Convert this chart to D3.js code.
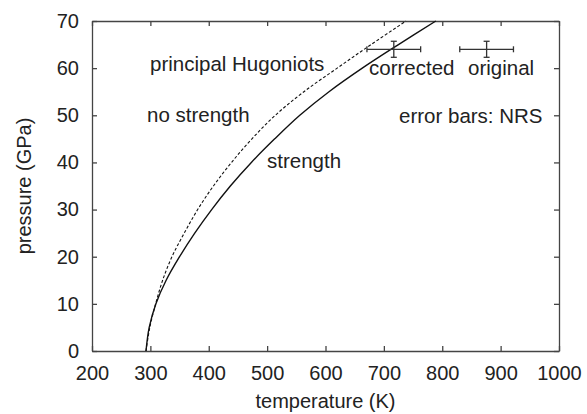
<html>
<head>
<meta charset="utf-8">
<script src="https://d3js.org/d3.v7.min.js"></script>
<style>
  body { margin: 0; background: #fff; }
  text { font-family: "Liberation Sans", Arial, Helvetica, sans-serif; fill: #222; }
</style>
</head>
<body>
<script>
const pressures = [0, 5, 10, 15, 20, 25, 30, 35, 40, 45, 50, 55, 60, 65, 70]
// principal Hugoniot with strength (solid), temperature at each pressure
const strengthT = [292.5, 298, 309.5, 327, 350, 376, 405, 437, 473, 513, 556, 606, 663, 725, 789]
// principal Hugoniot without strength (dashed)
const noStrengthT = [292.5, 299, 309, 321, 337, 358, 381, 408, 439, 474, 514, 563, 620, 678, 738]

// NRS error bars
const errLabels = ['corrected', 'original']
const errT = [717, 876]
const errP = [64, 64]
const errDT = [46, 46]
const errDP = [1.7, 1.7]

const xTicks = [200, 300, 400, 500, 600, 700, 800, 900, 1000]
const yTicks = [0, 10, 20, 30, 40, 50, 60, 70]

const width = 587
const height = 414
const margin = { left: 92, right: 28, top: 21, bottom: 63 }

const svg = d3.select('body').append('svg')
    .attr('width', width)
    .attr('height', height)

const x = d3.scaleLinear().domain([200, 1000]).range([margin.left, width - margin.right])
const y = d3.scaleLinear().domain([0, 70]).range([height - margin.bottom, margin.top])

const axisColor = '#444'

// axes, ticks pointing inward on all four sides
const gx = svg.append('g')
    .attr('transform', `translate(0, ${y(0)})`)
    .call(d3.axisBottom(x).tickValues(xTicks).tickSizeInner(-5).tickSizeOuter(0).tickPadding(15).tickFormat(d3.format('d')))
const gy = svg.append('g')
    .attr('transform', `translate(${x(200)}, 0)`)
    .call(d3.axisLeft(y).tickValues(yTicks).tickSizeInner(-5).tickSizeOuter(0).tickPadding(13).tickFormat(d3.format('d')))
const gt = svg.append('g')
    .attr('transform', `translate(0, ${y(70)})`)
    .call(d3.axisTop(x).tickValues(xTicks).tickSizeInner(-5).tickSizeOuter(0).tickFormat(''))
const gr = svg.append('g')
    .attr('transform', `translate(${x(1000)}, 0)`)
    .call(d3.axisRight(y).tickValues(yTicks).tickSizeInner(-5).tickSizeOuter(0).tickFormat(''))

;[gx, gy, gt, gr].forEach(g => {
    g.selectAll('path, line').attr('stroke', axisColor).attr('stroke-width', 1.3)
    g.selectAll('text').attr('font-size', '20px').attr('fill', '#222')
        .attr('font-family', '"Liberation Sans", Arial, sans-serif')
})

// axis titles
svg.append('text')
    .attr('x', (x(200) + x(1000)) / 2)
    .attr('y', 408)
    .attr('text-anchor', 'middle')
    .attr('font-size', '20px')
    .text('temperature (K)')

svg.append('text')
    .attr('transform', `translate(31, ${(y(0) + y(70)) / 2}) rotate(-90)`)
    .attr('text-anchor', 'middle')
    .attr('font-size', '20px')
    .text('pressure (GPa)')

// curves
const line = d3.line()
    .x(d => x(d[0]))
    .y(d => y(d[1]))
    .curve(d3.curveCatmullRom.alpha(0.5))

svg.append('path')
    .datum(d3.zip(strengthT, pressures))
    .attr('d', line)
    .attr('fill', 'none')
    .attr('stroke', '#111')
    .attr('stroke-width', 1.4)

svg.append('path')
    .datum(d3.zip(noStrengthT, pressures))
    .attr('d', line)
    .attr('fill', 'none')
    .attr('stroke', '#111')
    .attr('stroke-width', 1.1)
    .attr('stroke-dasharray', '3,2')

// error bars
const errData = errT.map((t, i) => ({ t: t, p: errP[i], dt: errDT[i], dp: errDP[i], name: errLabels[i] }))
const gErr = svg.append('g')
    .attr('stroke', '#333')
    .attr('stroke-width', 1.3)
    .attr('fill', 'none')

const eb = gErr.selectAll('g').data(errData).enter().append('g')
eb.append('line')
    .attr('x1', d => x(d.t - d.dt)).attr('x2', d => x(d.t + d.dt))
    .attr('y1', d => y(d.p)).attr('y2', d => y(d.p))
eb.append('line')
    .attr('x1', d => x(d.t)).attr('x2', d => x(d.t))
    .attr('y1', d => y(d.p - d.dp)).attr('y2', d => y(d.p + d.dp))
// caps
eb.append('line')
    .attr('x1', d => x(d.t - d.dt)).attr('x2', d => x(d.t - d.dt))
    .attr('y1', d => y(d.p) - 3).attr('y2', d => y(d.p) + 3)
eb.append('line')
    .attr('x1', d => x(d.t + d.dt)).attr('x2', d => x(d.t + d.dt))
    .attr('y1', d => y(d.p) - 3).attr('y2', d => y(d.p) + 3)
eb.append('line')
    .attr('x1', d => x(d.t) - 3).attr('x2', d => x(d.t) + 3)
    .attr('y1', d => y(d.p + d.dp)).attr('y2', d => y(d.p + d.dp))
eb.append('line')
    .attr('x1', d => x(d.t) - 3).attr('x2', d => x(d.t) + 3)
    .attr('y1', d => y(d.p - d.dp)).attr('y2', d => y(d.p - d.dp))

// annotations
const notes = [
    { text: 'principal Hugoniots', x: 150, y: 71 },
    { text: 'no strength', x: 147, y: 122 },
    { text: 'strength', x: 267, y: 168 },
    { text: 'corrected', x: 369, y: 75 },
    { text: 'original', x: 468, y: 75 },
    { text: 'error bars: NRS', x: 399, y: 123 }
]
svg.selectAll('text.note')
    .data(notes)
    .enter()
    .append('text')
    .attr('class', 'note')
    .attr('x', d => d.x)
    .attr('y', d => d.y)
    .attr('font-size', '20.5px')
    .text(d => d.text)
</script>
</body>
</html>
